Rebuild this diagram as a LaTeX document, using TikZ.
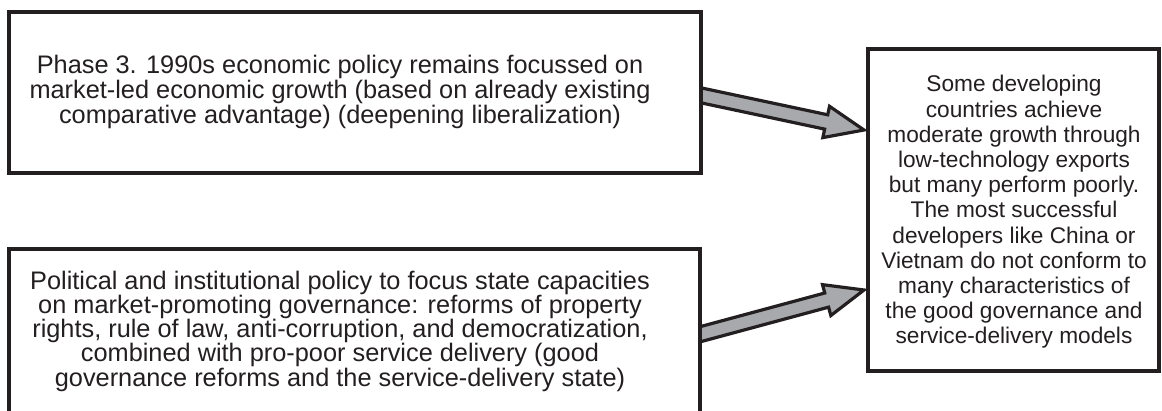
\documentclass[tikz,border=0pt]{standalone}
\usepackage{fontspec}
\setmainfont{Liberation Sans}
\usetikzlibrary{calc}
\definecolor{ink}{HTML}{231F20}
\definecolor{arrowgray}{HTML}{A7A9AC}
\tikzset{
  box/.style={draw=ink, line width=3pt, fill=white},
  boxtext/.style={text=ink, align=center, font=\fontsize{19pt}{17.6pt}\selectfont, inner sep=0pt},
  fatarrow/.style={draw=ink, line width=2.4pt, fill=arrowgray, line join=miter, miter limit=10}
}
\newcommand{\fatarrowdraw}[2]{%
  \path ($(#2)!29pt!(#1)$) coordinate (hb);
  \draw[fatarrow] ($(#1)!5.5pt!90:(#2)$) -- ($(hb)!5.5pt!90:(#2)$) -- ($(hb)!12pt!90:(#2)$) -- (#2)
     -- ($(hb)!12pt!-90:(#2)$) -- ($(hb)!5.5pt!-90:(#2)$) -- ($(#1)!5.5pt!-90:(#2)$) -- cycle;
}
\begin{document}
\begin{tikzpicture}[x=0.75pt,y=-0.75pt]
\useasboundingbox (0,0) rectangle (1162,410);
\coordinate (t1) at (690,93);
\coordinate (p1) at (864,130);
\coordinate (t2) at (690,337);
\coordinate (p2) at (864,290);
\fatarrowdraw{t1}{p1}
\fatarrowdraw{t2}{p2}
\draw[box] (9,12) rectangle (701,173);
\draw[box] (9,249) rectangle (700,418);
\draw[box] (868,49) rectangle (1159,371);
\node[boxtext] (a) at (340,92) {Phase 3. 1990s economic policy remains focussed on\\market-led economic growth (based on already existing\\comparative advantage) (deepening liberalization)};
\node[boxtext, font=\fontsize{19pt}{18.2pt}\selectfont] (b) at (340,331) {Political and institutional policy to focus state capacities\\on market-promoting governance: reforms of property\\rights, rule of law, anti-corruption, and democratization,\\combined with pro-poor service delivery (good\\governance reforms and the service-delivery state)};
\node[boxtext, font=\fontsize{17pt}{18.9pt}\selectfont] (c) at (1014,212) {Some developing\\countries achieve\\moderate growth through\\low-technology exports\\but many perform poorly.\\The most successful\\developers like China or\\Vietnam do not conform to\\many characteristics of\\the good governance and\\service-delivery models};
\end{tikzpicture}
\end{document}
